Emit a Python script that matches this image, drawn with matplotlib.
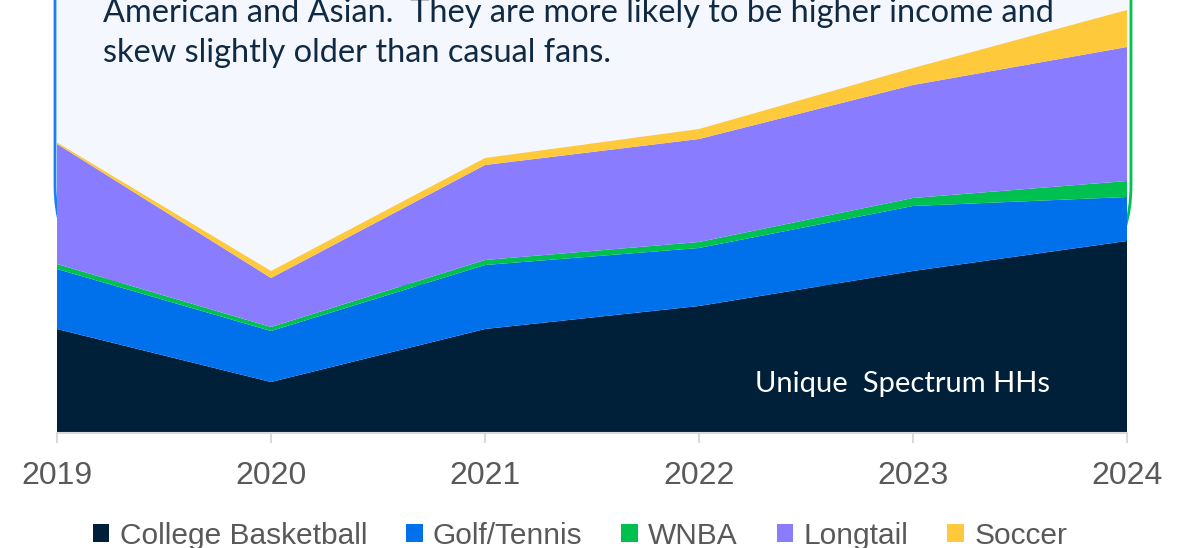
import matplotlib
matplotlib.use("Agg")
import matplotlib.pyplot as plt
from matplotlib.patches import FancyBboxPatch, Rectangle
from matplotlib.transforms import IdentityTransform

years = [2019, 2020, 2021, 2022, 2023, 2024]
series = ["College Basketball", "Golf/Tennis", "WNBA", "Longtail", "Soccer"]
college_bb = [104, 51, 104, 127, 162, 192]
golf_tennis = [60, 51, 64, 58, 65, 44]
wnba = [5, 4, 5, 6, 8, 16]
longtail = [120, 49, 95, 103, 113, 134]
soccer = [1.5, 7, 7, 10, 17, 37]
colors = ["#002039", "#0071EB", "#00C150", "#8A7CFF", "#FFC93C"]

line1 = "American and Asian.  They are more likely to be higher income and"
line2 = "skew slightly older than casual fans."
note = "Unique  Spectrum HHs"

W, H = 1190, 548
fig = plt.figure(figsize=(W / 100, H / 100), dpi=100)
ax = fig.add_axes([57 / W, (H - 433) / H, (1127 - 57) / W, 433 / H])
ax.patch.set_visible(False)

# rounded callout box behind the chart, blue edge left / green edge right
for col, clip in [("#1A7FF0", (0, 0, 593, H)), ("#00C150", (593, 0, W, H))]:
    box = FancyBboxPatch((55 + 100, H - 285 + 100), 1131 - 55 - 200, 400,
                         boxstyle="round,pad=100", transform=IdentityTransform(),
                         facecolor="#F4F7FE", edgecolor=col, linewidth=2, zorder=-5)
    cr = Rectangle(clip[:2], clip[2] - clip[0], clip[3], transform=IdentityTransform())
    box.set_clip_path(cr)
    fig.patches.append(box)

polys = ax.stackplot(years, college_bb, golf_tennis, wnba, longtail, soccer,
                     colors=colors, labels=series, linewidth=0)

ax.set_xlim(2019, 2024)
ax.set_ylim(0, 433)
ax.set_yticks([])
for s in ["top", "right", "left"]:
    ax.spines[s].set_visible(False)
ax.spines["bottom"].set_color("#D9D9D9")
ax.spines["bottom"].set_linewidth(1.5)
ax.set_xticks(years)
ax.set_xticklabels([str(y) for y in years])
ax.tick_params(axis="x", length=7, width=1.5, color="#D9D9D9", pad=13,
               labelsize=23, labelcolor="#595959")
for t in ax.get_xticklabels():
    t.set_fontfamily("Liberation Sans")

fig.text(103 / W, (H - 22) / H, line1, fontsize=23.4, family="Lato",
         color="#102A43", va="baseline", ha="left", zorder=5)
fig.text(103 / W, (H - 62) / H, line2, fontsize=23.4, family="Lato",
         color="#102A43", va="baseline", ha="left", zorder=5)
ax.text(755 / W, (H - 392) / H, note, transform=fig.transFigure, fontsize=21,
        family="Lato", color="white", va="baseline", ha="left")

leg = fig.legend(handles=polys, labels=series, loc="center", ncol=5,
                 bbox_to_anchor=(580 / W, 12 / H), frameon=False,
                 prop={"family": "Liberation Sans", "size": 21.5},
                 handlelength=0.55, handleheight=0.55, handletextpad=0.35,
                 columnspacing=1.3, borderpad=0)
for t in leg.get_texts():
    t.set_color("#595959")

fig.savefig("out.png", dpi=100)
